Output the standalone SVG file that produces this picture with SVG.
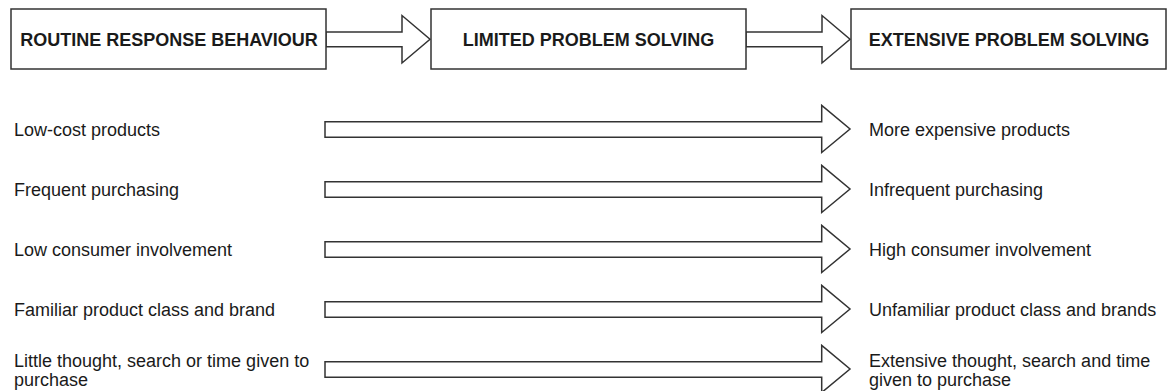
<svg xmlns="http://www.w3.org/2000/svg" width="1167" height="391" viewBox="0 0 1167 391">
<style>
.box{fill:#fff;stroke:#333;stroke-width:1.5}
.arr{fill:#fff;stroke:#333;stroke-width:1.5;stroke-linejoin:miter}
.title{font-family:"Liberation Sans",Arial,Helvetica,sans-serif;font-size:18px;font-weight:bold;fill:#1a1a1a;text-anchor:middle}
.lbl{font-family:"Liberation Sans",Arial,Helvetica,sans-serif;font-size:18px;fill:#1a1a1a}
</style>
<rect width="1167" height="391" fill="#fff"/>
<g id="connectors">
<path class="arr" d="M326,32 L402,32 L402,15.5 L430,39.3 L402,63 L402,46.7 L326,46.7 Z"/>
<path class="arr" d="M746,32 L822,32 L822,15.5 L850,39.3 L822,63 L822,46.7 L746,46.7 Z"/>
<path class="arr" d="M325,121.7 L821.7,121.7 L821.7,105.3 L850,129 L821.7,152.5 L821.7,137.3 L325,137.3 Z"/>
<path class="arr" d="M325,181.7 L821.7,181.7 L821.7,165.3 L850,189 L821.7,212.5 L821.7,197.3 L325,197.3 Z"/>
<path class="arr" d="M325,241.7 L821.7,241.7 L821.7,225.3 L850,249 L821.7,272.5 L821.7,257.3 L325,257.3 Z"/>
<path class="arr" d="M325,301.7 L821.7,301.7 L821.7,285.3 L850,309 L821.7,332.5 L821.7,317.3 L325,317.3 Z"/>
<path class="arr" d="M325,361.7 L821.7,361.7 L821.7,345.3 L850,369 L821.7,392.5 L821.7,377.3 L325,377.3 Z"/>
</g>
<g id="node-routine">
<rect class="box" x="11" y="9" width="315" height="60"/>
<text class="title" x="169" y="46">ROUTINE RESPONSE BEHAVIOUR</text>
</g>
<g id="node-limited">
<rect class="box" x="431" y="9" width="315" height="60"/>
<text class="title" x="588.5" y="46">LIMITED PROBLEM SOLVING</text>
</g>
<g id="node-extensive">
<rect class="box" x="851" y="9" width="315" height="60"/>
<text class="title" x="1009" y="46">EXTENSIVE PROBLEM SOLVING</text>
</g>
<g id="left-labels">
<text class="lbl" x="14" y="135.5">Low-cost products</text>
<text class="lbl" x="14" y="195.5">Frequent purchasing</text>
<text class="lbl" x="14" y="255.5">Low consumer involvement</text>
<text class="lbl" x="14" y="315.5">Familiar product class and brand</text>
<text class="lbl" x="14" y="366.5">Little thought, search or time given to</text>
<text class="lbl" x="14" y="385.5">purchase</text>
</g>
<g id="right-labels">
<text class="lbl" x="869" y="135.5">More expensive products</text>
<text class="lbl" x="869" y="195.5">Infrequent purchasing</text>
<text class="lbl" x="869" y="255.5">High consumer involvement</text>
<text class="lbl" x="869" y="315.5">Unfamiliar product class and brands</text>
<text class="lbl" x="869" y="366.5">Extensive thought, search and time</text>
<text class="lbl" x="869" y="385.5">given to purchase</text>
</g>
</svg>
